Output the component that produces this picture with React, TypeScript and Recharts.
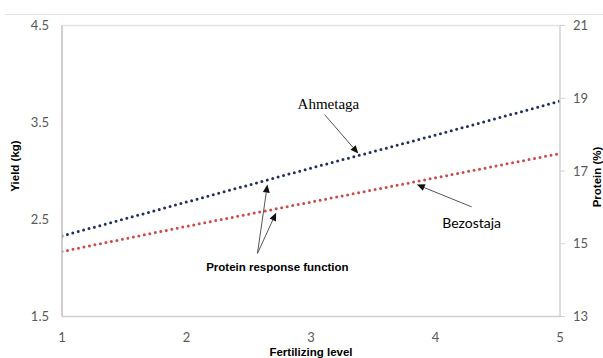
import React from 'react';
import { ComposedChart, Line, XAxis, YAxis, ReferenceLine, ReferenceDot } from 'recharts';

// fertilizing levels and the two protein response functions (read on the yield axis)
const LEVELS = [1, 2, 3, 4, 5];
const AHMETAGA = [2.33, 2.68, 3.03, 3.37, 3.72];
const BEZOSTAJA = [2.17, 2.43, 2.68, 2.93, 3.18];

const YIELD_TICKS = [1.5, 2.5, 3.5, 4.5];
const PROTEIN_TICKS = [13, 15, 17, 19, 21];

// annotation arrows: [tailX, tailY, headX, headY] in data units
const ARROWS = [
  [3.11, 3.58, 3.38, 3.18],
  [4.29, 2.63, 3.85, 2.86],
  [2.57, 2.15, 2.65, 2.86],
  [2.57, 2.15, 2.72, 2.57],
];

const data = LEVELS.map((level, i) => ({ level, ahmetaga: AHMETAGA[i], bezostaja: BEZOSTAJA[i] }));

const W = 603;
const H = 358;

const tickStyle = { fill: '#595959', fontSize: 13, fontFamily: 'Lato, sans-serif' };
const axisTitle = { fill: '#000', fontSize: 11.5, fontWeight: 700, fontFamily: '"Liberation Sans", Arial, sans-serif' };

const Arrow = (props: any) => {
  const { x1, y1, x2, y2 } = props;
  if ([x1, y1, x2, y2].some((v) => v == null || isNaN(v))) return null;
  const dx = x2 - x1;
  const dy = y2 - y1;
  const len = Math.sqrt(dx * dx + dy * dy) || 1;
  const ux = dx / len;
  const uy = dy / len;
  const hl = 8;
  const hw = 3.5;
  const bx = x2 - ux * hl;
  const by = y2 - uy * hl;
  return (
    <g>
      <line x1={x1} y1={y1} x2={bx} y2={by} stroke="#555" strokeWidth={1} />
      <polygon
        points={`${x2},${y2} ${bx - uy * hw},${by + ux * hw} ${bx + uy * hw},${by - ux * hw}`}
        fill="#111"
      />
    </g>
  );
};

const textAt = (x: number, y: number, value: string, style: any) => (
  <ReferenceDot
    yAxisId="left"
    x={x}
    y={y}
    r={0}
    fill="none"
    stroke="none"
    label={{ value, position: 'center', style }}
  />
);

export default function App() {
  return (
    <div style={{ position: 'absolute', left: 0, top: 0, width: W, height: H, overflow: 'hidden', background: '#fff' }}>
      <div style={{ position: 'absolute', left: 5, right: 0, top: 14, height: 1, background: '#e4e4e4' }} />
      <ComposedChart width={W} height={H} data={data} margin={{ top: 25.5, right: 0, bottom: 0, left: 0 }}>
        <XAxis
          dataKey="level"
          type="number"
          domain={[1, 5]}
          ticks={LEVELS}
          allowDataOverflow
          height={41.5}
          tickLine={false}
          tickMargin={10}
          axisLine={{ stroke: '#d0d0d0', strokeWidth: 1.5 }}
          tick={tickStyle}
          label={{ value: 'Fertilizing level', position: 'center', dy: 15, style: axisTitle }}
        />
        <YAxis
          yAxisId="left"
          type="number"
          domain={[1.5, 4.5]}
          ticks={YIELD_TICKS}
          allowDataOverflow
          width={62}
          tickLine={false}
          tickMargin={7}
          axisLine={{ stroke: '#bfbfbf', strokeWidth: 1.5 }}
          tick={tickStyle}
          tickFormatter={(v: number) => v.toFixed(1)}
          label={{ value: 'Yield (kg)', angle: -90, position: 'center', dx: -16, dy: -5, style: axisTitle }}
        />
        <YAxis
          yAxisId="right"
          orientation="right"
          type="number"
          domain={[13, 21]}
          ticks={PROTEIN_TICKS}
          allowDataOverflow
          width={43}
          tickSize={5}
          tickMargin={8}
          tickLine={{ stroke: '#d0d0d0' }}
          axisLine={{ stroke: '#d0d0d0', strokeWidth: 1.5 }}
          tick={tickStyle}
          label={{ value: 'Protein (%)', angle: -90, position: 'center', dx: 15, dy: 6, style: axisTitle }}
        />
        <ReferenceLine yAxisId="left" y={4.5} stroke="#e3e3e3" strokeWidth={1.5} />
        <Line
          yAxisId="left"
          type="linear"
          dataKey="ahmetaga"
          stroke="#1f2f5f"
          strokeWidth={3}
          strokeDasharray="0 5.6"
          strokeLinecap="round"
          dot={false}
          activeDot={false}
          isAnimationActive={false}
        />
        <Line
          yAxisId="left"
          type="linear"
          dataKey="bezostaja"
          stroke="#cc4a4a"
          strokeWidth={3}
          strokeDasharray="0 5.6"
          strokeLinecap="round"
          dot={false}
          activeDot={false}
          isAnimationActive={false}
        />
        {ARROWS.map((a, i) => (
          <ReferenceLine
            key={`arrow-${i}`}
            yAxisId="left"
            segment={[{ x: a[0], y: a[1] }, { x: a[2], y: a[3] }]}
            shape={Arrow}
          />
        ))}
        {textAt(3.14, 3.69, 'Ahmetaga', { fill: '#000', fontSize: 15, fontFamily: '"Liberation Serif", "Times New Roman", serif' })}
        {textAt(4.29, 2.46, 'Bezostaja', { fill: '#000', fontSize: 14, fontFamily: 'Lato, sans-serif' })}
        {textAt(2.73, 2.01, 'Protein response function', { ...axisTitle, fontSize: 11.5 })}
      </ComposedChart>
    </div>
  );
}
